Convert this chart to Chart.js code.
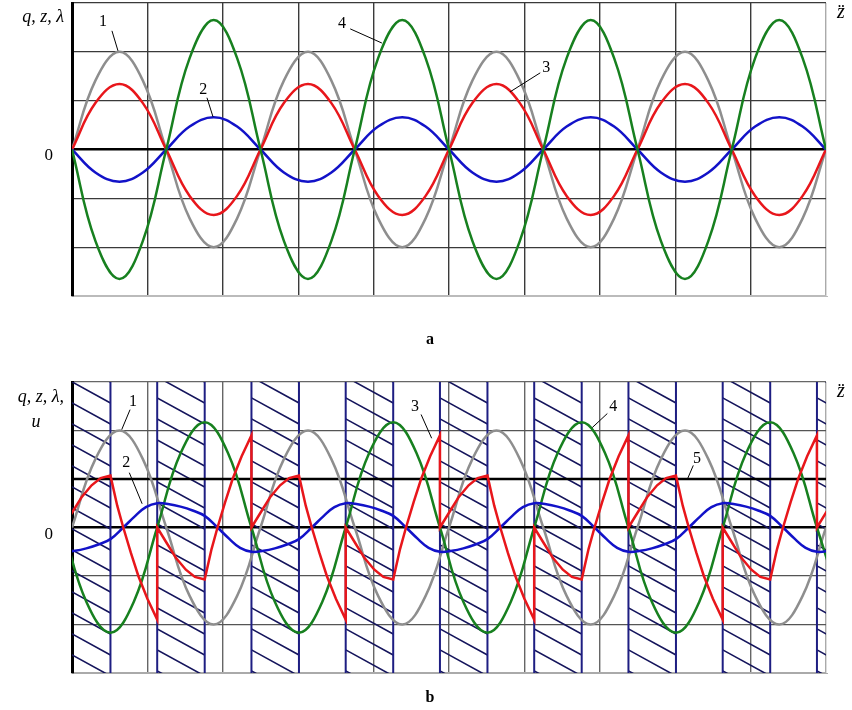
<!DOCTYPE html>
<html>
<head>
<meta charset="utf-8">
<script src="https://cdn.jsdelivr.net/npm/chart.js@4.4.0/dist/chart.umd.min.js"></script>
<style>
  body { margin: 0; background: #fff; width: 852px; height: 710px; overflow: hidden; position: relative; }
  canvas { position: absolute; left: 0; }
  #chartA { top: 0; }
  #chartB { top: 360px; }
</style>
</head>
<body>
<canvas id="chartA" width="852" height="360"></canvas>
<canvas id="chartB" width="852" height="350"></canvas>
<script>
// ---- panel a: sampled every 1/8 period ----
const xA = [0, 0.31, 0.63, 0.94, 1.25, 1.56, 1.88, 2.19, 2.5, 2.81, 3.13, 3.44, 3.75, 4.06, 4.38, 4.69,
  5, 5.31, 5.63, 5.94, 6.25, 6.56, 6.88, 7.19, 7.5, 7.81, 8.13, 8.44, 8.75, 9.06, 9.38, 9.69, 10];
const grayA = [0, 1.41, 2, 1.41, 0, -1.41, -2, -1.41, 0, 1.41, 2, 1.41, 0, -1.41, -2, -1.41,
  0, 1.41, 2, 1.41, 0, -1.41, -2, -1.41, 0, 1.41, 2, 1.41, 0, -1.41, -2, -1.41, 0];
const redA = [0, 0.95, 1.34, 0.95, 0, -0.95, -1.34, -0.95, 0, 0.95, 1.34, 0.95, 0, -0.95, -1.34, -0.95,
  0, 0.95, 1.34, 0.95, 0, -0.95, -1.34, -0.95, 0, 0.95, 1.34, 0.95, 0, -0.95, -1.34, -0.95, 0];
const blueA = [0, -0.47, -0.66, -0.47, 0, 0.47, 0.66, 0.47, 0, -0.47, -0.66, -0.47, 0, 0.47, 0.66, 0.47,
  0, -0.47, -0.66, -0.47, 0, 0.47, 0.66, 0.47, 0, -0.47, -0.66, -0.47, 0, 0.47, 0.66, 0.47, 0];
const greenA = [0, -1.87, -2.65, -1.87, 0, 1.87, 2.65, 1.87, 0, -1.87, -2.65, -1.87, 0, 1.87, 2.65, 1.87,
  0, -1.87, -2.65, -1.87, 0, 1.87, 2.65, 1.87, 0, -1.87, -2.65, -1.87, 0, 1.87, 2.65, 1.87, 0];

// ---- panel b ----
const bandStart = [-0.12, 1.13, 2.38, 3.63, 4.88, 6.13, 7.38, 8.63, 9.88];
const bandEnd = [0.51, 1.76, 3.01, 4.26, 5.51, 6.76, 8.01, 9.26, 10.51];

const grayB = grayA; // same curve as in panel a

const xGreenB = [-0.12, 0.19, 0.51, 0.82, 1.13, 1.44, 1.76, 2.07, 2.38, 2.69, 3.01, 3.32, 3.63, 3.94, 4.26, 4.57,
  4.88, 5.19, 5.51, 5.82, 6.13, 6.44, 6.76, 7.07, 7.38, 7.69, 8.01, 8.32, 8.63, 8.94, 9.26, 9.57, 9.88, 10.19];
const greenB = [0, -1.53, -2.17, -1.53, 0, 1.53, 2.17, 1.53, 0, -1.53, -2.17, -1.53, 0, 1.53, 2.17, 1.53,
  0, -1.53, -2.17, -1.53, 0, 1.53, 2.17, 1.53, 0, -1.53, -2.17, -1.53, 0, 1.53, 2.17, 1.53, 0, -1.53];

const xBlueB = [
  -0.12, 0.04, 0.19, 0.35, 0.51, 0.68, 0.84, 0.98,
  1.13, 1.29, 1.44, 1.60, 1.76, 1.93, 2.09, 2.23,
  2.38, 2.54, 2.69, 2.85, 3.01, 3.18, 3.34, 3.48,
  3.63, 3.79, 3.94, 4.10, 4.26, 4.43, 4.59, 4.73,
  4.88, 5.04, 5.19, 5.35, 5.51, 5.68, 5.84, 5.98,
  6.13, 6.29, 6.44, 6.60, 6.76, 6.93, 7.09, 7.23,
  7.38, 7.54, 7.69, 7.85, 8.01, 8.18, 8.34, 8.48,
  8.63, 8.79, 8.94, 9.10, 9.26, 9.43, 9.59, 9.73,
  9.88, 10.04, 10.19];
const blueB = [
  -0.5, -0.48, -0.43, -0.35, -0.24, 0, 0.24, 0.42,
  0.5, 0.48, 0.43, 0.35, 0.24, 0, -0.24, -0.42,
  -0.5, -0.48, -0.43, -0.35, -0.24, 0, 0.24, 0.42,
  0.5, 0.48, 0.43, 0.35, 0.24, 0, -0.24, -0.42,
  -0.5, -0.48, -0.43, -0.35, -0.24, 0, 0.24, 0.42,
  0.5, 0.48, 0.43, 0.35, 0.24, 0, -0.24, -0.42,
  -0.5, -0.48, -0.43, -0.35, -0.24, 0, 0.24, 0.42,
  0.5, 0.48, 0.43, 0.35, 0.24, 0, -0.24, -0.42,
  -0.5, -0.48, -0.43];

const xRedB = [
  -0.12, 0.01, 0.13, 0.26, 0.38, 0.51, 0.6, 0.68, 0.78, 0.88, 1.0, 1.13,
  1.13, 1.26, 1.38, 1.51, 1.63, 1.76, 1.85, 1.93, 2.03, 2.13, 2.25, 2.38,
  2.38, 2.51, 2.63, 2.76, 2.88, 3.01, 3.1, 3.18, 3.28, 3.38, 3.5, 3.63,
  3.63, 3.76, 3.88, 4.01, 4.13, 4.26, 4.35, 4.43, 4.53, 4.63, 4.75, 4.88,
  4.88, 5.01, 5.13, 5.26, 5.38, 5.51, 5.6, 5.68, 5.78, 5.88, 6.0, 6.13,
  6.13, 6.26, 6.38, 6.51, 6.63, 6.76, 6.85, 6.93, 7.03, 7.13, 7.25, 7.38,
  7.38, 7.51, 7.63, 7.76, 7.88, 8.01, 8.1, 8.18, 8.28, 8.38, 8.5, 8.63,
  8.63, 8.76, 8.88, 9.01, 9.13, 9.26, 9.35, 9.43, 9.53, 9.63, 9.75, 9.88,
  9.88, 10.01, 10.13];
const redB = [
  0, 0.33, 0.63, 0.87, 1.02, 1.07, 0.45, 0, -0.52, -1.0, -1.47, -1.9,
  0, -0.33, -0.63, -0.87, -1.02, -1.07, -0.45, 0, 0.52, 1.0, 1.47, 1.9,
  0, 0.33, 0.63, 0.87, 1.02, 1.07, 0.45, 0, -0.52, -1.0, -1.47, -1.9,
  0, -0.33, -0.63, -0.87, -1.02, -1.07, -0.45, 0, 0.52, 1.0, 1.47, 1.9,
  0, 0.33, 0.63, 0.87, 1.02, 1.07, 0.45, 0, -0.52, -1.0, -1.47, -1.9,
  0, -0.33, -0.63, -0.87, -1.02, -1.07, -0.45, 0, 0.52, 1.0, 1.47, 1.9,
  0, 0.33, 0.63, 0.87, 1.02, 1.07, 0.45, 0, -0.52, -1.0, -1.47, -1.9,
  0, -0.33, -0.63, -0.87, -1.02, -1.07, -0.45, 0, 0.52, 1.0, 1.47, 1.9,
  0, 0.33, 0.63];

const xU = [0, 10];
const uB = [1, 1];

// curve numbers with leader lines (data coordinates)
const notesA = [
  { text: '1', at: [0.41, 2.62], line: [[0.53, 2.43], [0.61, 2.02]] },
  { text: '2', at: [1.74, 1.22], line: [[1.79, 1.06], [1.87, 0.67]] },
  { text: '4', at: [3.58, 2.57], line: [[3.69, 2.47], [4.11, 2.18]] },
  { text: '3', at: [6.29, 1.67], line: [[6.21, 1.57], [5.81, 1.18]] }
];
const notesB = [
  { text: '1', at: [0.81, 2.6], line: [[0.77, 2.43], [0.66, 2.02]] },
  { text: '2', at: [0.72, 1.34], line: [[0.76, 1.13], [0.93, 0.49]] },
  { text: '3', at: [4.55, 2.49], line: [[4.63, 2.33], [4.77, 1.84]] },
  { text: '4', at: [7.18, 2.49], line: [[7.1, 2.35], [6.9, 2.06]] },
  { text: '5', at: [8.29, 1.42], line: [[8.24, 1.28], [8.16, 0.99]] }
];

const SERIF = '"Liberation Serif", "DejaVu Serif", serif';

function pts(xs, ys) {
  return xs.map((x, i) => ({ x: x, y: ys[i] }));
}

function line(xs, ys, color, width, tension) {
  return {
    data: pts(xs, ys),
    borderColor: color,
    borderWidth: width,
    pointRadius: 0,
    tension: tension,
    fill: false
  };
}

// curve numbers + leaders, and the axis symbols
function textPlugin(notes, side) {
  return {
    id: 'texts',
    afterDatasetsDraw(chart) {
      const { ctx, chartArea: a, scales: { x, y } } = chart;
      ctx.save();
      ctx.strokeStyle = '#000';
      ctx.fillStyle = '#000';
      ctx.lineWidth = 1;
      ctx.font = '16px ' + SERIF;
      ctx.textAlign = 'center';
      ctx.textBaseline = 'middle';
      notes.forEach(n => {
        ctx.beginPath();
        ctx.moveTo(x.getPixelForValue(n.line[0][0]), y.getPixelForValue(n.line[0][1]));
        ctx.lineTo(x.getPixelForValue(n.line[1][0]), y.getPixelForValue(n.line[1][1]));
        ctx.stroke();
        ctx.fillText(n.text, x.getPixelForValue(n.at[0]), y.getPixelForValue(n.at[1]));
      });

      ctx.textBaseline = 'alphabetic';
      // "0" on the left
      ctx.font = '17px ' + SERIF;
      ctx.textAlign = 'right';
      ctx.fillText('0', a.left - 19, y.getPixelForValue(0) + side.zeroDy);
      // quantity names
      ctx.font = 'italic 18px ' + SERIF;
      ctx.fillText(side.names, a.left - 8, a.top + side.namesDy);
      if (side.second) {
        ctx.textAlign = 'center';
        ctx.fillText(side.second, 36, a.top + side.namesDy + 25);
      }
      // z with two dots on the right
      ctx.font = 'italic 20px ' + SERIF;
      ctx.textAlign = 'left';
      ctx.fillText('z\u0308', a.right + 11, a.top + side.zDy);
      // panel letter
      ctx.font = 'bold 16px ' + SERIF;
      ctx.textAlign = 'center';
      ctx.fillText(side.letter, 430, a.bottom + side.letterDy);
      ctx.restore();
    }
  };
}

const hatchPlugin = {
  id: 'hatch',
  beforeDatasetsDraw(chart) {
    const { ctx, chartArea: a, scales: { x } } = chart;
    const slope = 0.55, step = 21;
    ctx.save();
    bandStart.forEach((s, i) => {
      const x1 = Math.max(x.getPixelForValue(s), a.left);
      const x2 = Math.min(x.getPixelForValue(bandEnd[i]), a.right);
      if (x2 <= x1) return;
      ctx.save();
      ctx.beginPath();
      ctx.rect(x1, a.top, x2 - x1, a.bottom - a.top);
      ctx.clip();
      ctx.strokeStyle = '#15155c';
      ctx.lineWidth = 1.6;
      ctx.beginPath();
      const x0 = x.getPixelForValue(s);
      const w = x.getPixelForValue(bandEnd[i]) - x0;
      for (let c = a.top - w * slope - step; c < a.bottom + step; c += step) {
        ctx.moveTo(x0, c);
        ctx.lineTo(x0 + w, c + w * slope);
      }
      ctx.stroke();
      ctx.restore();
      // band edges
      ctx.strokeStyle = '#1e1e82';
      ctx.lineWidth = 2;
      [s, bandEnd[i]].forEach(v => {
        const px = x.getPixelForValue(v);
        if (px > a.left + 2 && px < a.right - 1) {
          ctx.beginPath();
          ctx.moveTo(px, a.top);
          ctx.lineTo(px, a.bottom);
          ctx.stroke();
        }
      });
    });
    ctx.restore();
  }
};

function scales(vGrid, hGrid, topCol, bottomCol) {
  return {
    x: {
      type: 'linear', min: 0, max: 10,
      ticks: { display: false, stepSize: 1 },
      grid: {
        drawTicks: false,
        color: c => c.tick.value === 0 ? '#000' : c.tick.value === 10 ? '#aaa' : vGrid,
        lineWidth: c => c.tick.value === 0 ? 3 : 1.4
      },
      border: { display: true, color: bottomCol, width: 1 }
    },
    y: {
      min: -3, max: 3,
      ticks: { display: false, stepSize: 1 },
      grid: {
        drawTicks: false,
        color: c => c.tick.value === 0 ? '#000' : c.tick.value === 3 ? topCol : c.tick.value === -3 ? bottomCol : hGrid,
        lineWidth: c => c.tick.value === 0 ? 2.5 : 1.3
      },
      border: { display: true, color: '#000', width: 3 }
    }
  };
}

const baseOptions = {
  responsive: false,
  animation: false,
  plugins: { legend: { display: false }, tooltip: { enabled: false } }
};

new Chart(document.getElementById('chartA'), {
  type: 'line',
  data: {
    datasets: [
      line(xA, greenA, '#17801f', 2.5, 0.4),
      line(xA, blueA, '#1212c8', 2.5, 0.4),
      line(xA, redA, '#e8161b', 2.5, 0.4),
      line(xA, grayA, '#8e8e8e', 2.5, 0.4)
    ]
  },
  options: Object.assign({}, baseOptions, {
    layout: { padding: { left: 72, top: 3, right: 26, bottom: 64 } },
    scales: scales('#3a3a3a', '#3a3a3a', '#3a3a3a', '#bbb')
  }),
  plugins: [textPlugin(notesA, { names: 'q, z, λ', namesDy: 19, zeroDy: 10, zDy: 15, letter: 'a', letterDy: 48 })]
});

new Chart(document.getElementById('chartB'), {
  type: 'line',
  data: {
    datasets: [
      line(xRedB, redB, '#e8161b', 2.5, 0),
      line(xBlueB, blueB, '#1212c8', 2.5, 0.4),
      line(xGreenB, greenB, '#17801f', 2.5, 0.4),
      line(xA, grayB, '#8e8e8e', 2.5, 0.4),
      line(xU, uB, '#000', 2.5, 0)
    ]
  },
  options: Object.assign({}, baseOptions, {
    layout: { padding: { left: 72, top: 22, right: 26, bottom: 37 } },
    scales: scales('#666', '#555', '#666', '#aaa')
  }),
  plugins: [hatchPlugin, textPlugin(notesB, { names: 'q, z, λ,', second: 'u', namesDy: 20, zeroDy: 11, zDy: 15, letter: 'b', letterDy: 29 })]
});
</script>
</body>
</html>
